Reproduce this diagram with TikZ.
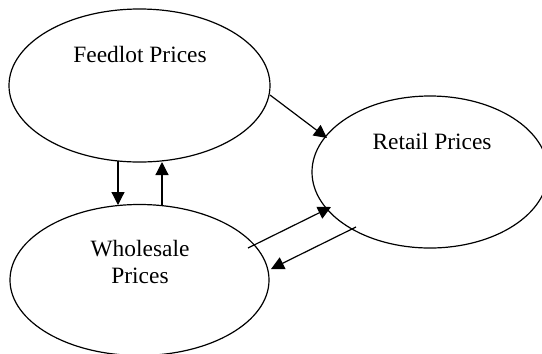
\documentclass[tikz,border=0pt]{standalone}
\usepackage{fontspec}
\setmainfont{Liberation Serif}
\usetikzlibrary{shapes.geometric,arrows.meta}
\begin{document}
\begin{tikzpicture}[x=1bp,y=-1bp,
  bubble/.style={draw, line width=1.2bp, ellipse, inner sep=0pt},
  lbl/.style={font=\fontsize{23.5}{28}\selectfont, align=center, inner sep=0pt},
  arr/.style={line width=1.2bp, -{Triangle[length=13bp,width=13bp]}}]
\useasboundingbox (0,0) rectangle (542,353);
\node[bubble, minimum width=261bp, minimum height=153bp] (feed) at (139.5,85.5) {};
\node[bubble, minimum width=236bp, minimum height=152bp] (retail) at (430,172) {};
\node[bubble, minimum width=259bp, minimum height=151bp] (whole) at (139.5,280) {};
\node[lbl, anchor=base] (tfeed) at (140,62) {Feedlot Prices};
\node[lbl, anchor=base] (tretail) at (432,149) {Retail Prices};
\node[lbl] (twhole) at (140,262) {Wholesale\\Prices};
\coordinate (d1) at (118,161);
\coordinate (d2) at (118,205);
\coordinate (u1) at (162,205);
\coordinate (u2) at (162,162);
\coordinate (fr1) at (270,95);
\coordinate (fr2) at (327,138);
\coordinate (wr1) at (248,248);
\coordinate (wr2) at (331,207);
\coordinate (rw1) at (356,227);
\coordinate (rw2) at (271,269);
\draw[arr] (d1) -- (d2);
\draw[arr] (u1) -- (u2);
\draw[arr] (fr1) -- (fr2);
\draw[arr] (wr1) -- (wr2);
\draw[arr] (rw1) -- (rw2);
\end{tikzpicture}
\end{document}
